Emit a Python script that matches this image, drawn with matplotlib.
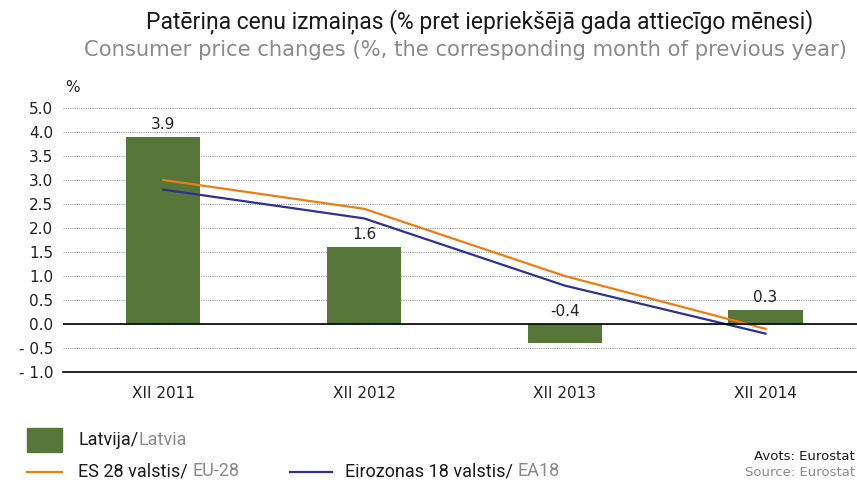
import matplotlib.pyplot as plt
from matplotlib.patches import Rectangle
from matplotlib.lines import Line2D

categories = ["XII 2011", "XII 2012", "XII 2013", "XII 2014"]
latvia = [3.9, 1.6, -0.4, 0.3]
eu28 = [3.0, 2.4, 1.0, -0.1]
ea18 = [2.8, 2.2, 0.8, -0.2]

# the source chart labels its top gridline 5.0 although it sits at 4.5
ytick_values = [-1.0, -0.5, 0.0, 0.5, 1.0, 1.5, 2.0, 2.5, 3.0, 3.5, 4.0, 4.5]
ytick_labels = ["- 1.0", "- 0.5", "0.0", "0.5", "1.0", "1.5", "2.0", "2.5",
                "3.0", "3.5", "4.0", "5.0"]

green = "#56763A"
orange = "#EE7D11"
navy = "#2E3092"
gray = "#8a8a8a"
dark = "#1a1a1a"

plt.rcParams["font.family"] = ["DejaVu Sans"]
W, H = 857, 480

fig = plt.figure(figsize=(8.57, 4.8), dpi=100)
ax = fig.add_axes([63 / W, 1 - 372 / H, 1 - 63 / W, (372 - 108) / H])

x = list(range(len(categories)))
ax.bar(x, latvia, width=0.37, color=green, zorder=2)
ax.plot(x, eu28, color=orange, lw=1.6, zorder=3)
ax.plot(x, ea18, color=navy, lw=1.6, zorder=3)

for xi, v in zip(x, latvia):
    ax.text(xi, max(v, 0) + 0.1, f"{v:.1f}", ha="center", va="bottom",
            fontsize=11, color="#222222")

ax.set_xlim(-0.5, 3.456)
ax.set_ylim(-1.0, 4.5)
ax.set_yticks(ytick_values)
ax.set_yticklabels(ytick_labels)
ax.set_xticks(x)
ax.set_xticklabels(categories)
ax.tick_params(axis="both", length=0, labelsize=11, colors="#222222")
ax.tick_params(axis="x", pad=10)
ax.tick_params(axis="y", pad=7)

for s in ["top", "right", "left"]:
    ax.spines[s].set_visible(False)
ax.spines["bottom"].set_color("black")
ax.spines["bottom"].set_linewidth(1.2)
ax.yaxis.grid(True, linestyle=(0, (1, 1)), color="#9a9a9a", lw=0.8, zorder=0)
ax.axhline(0, color="black", lw=1.2, zorder=4)
ax.set_axisbelow(True)

fig.text(65 / W, 1 - 87 / H, "%", fontsize=11, ha="left", va="center", color="#222222")

title_font = ["Roboto", "DejaVu Sans"]
fig.text(480 / W, 1 - 22 / H, "Patēriņa cenu izmaiņas (% pret iepriekšējā gada attiecīgo mēnesi)",
         ha="center", va="center", fontsize=16.5, family=title_font, color=dark)
fig.text(466 / W, 1 - 50 / H, "Consumer price changes (%, the corresponding month of previous year)",
         ha="center", va="center", fontsize=15.2, color=gray)


def two_tone(x0, y0, first, second, size):
    t = fig.text(x0 / W, 1 - y0 / H, first, fontsize=size, va="center",
                 family=title_font, color=dark)
    fig.canvas.draw()
    bb = t.get_window_extent()
    fig.text(bb.x1 / W, 1 - y0 / H, second, fontsize=size, va="center",
             family=title_font, color=gray)


# legend
fig.patches.append(Rectangle((27 / W, 1 - 452 / H), 35 / W, 24 / H,
                             transform=fig.transFigure, color=green))
two_tone(78, 440, "Latvija/", "Latvia", 13)

fig.lines.append(Line2D([27 / W, 62 / W], [1 - 472 / H] * 2,
                        transform=fig.transFigure, color=orange, lw=1.6))
two_tone(78, 471, "ES 28 valstis/ ", "EU-28", 13)

fig.lines.append(Line2D([290 / W, 332 / W], [1 - 472 / H] * 2,
                        transform=fig.transFigure, color=navy, lw=1.6))
two_tone(345, 471, "Eirozonas 18 valstis/ ", "EA18", 13)

fig.text(855 / W, 1 - 457 / H, "Avots: Eurostat", fontsize=9.5, va="center",
         ha="right", color=dark)
fig.text(855 / W, 1 - 472 / H, "Source: Eurostat", fontsize=9.5, va="center",
         ha="right", color=gray)

fig.savefig("out.png", dpi=100)
